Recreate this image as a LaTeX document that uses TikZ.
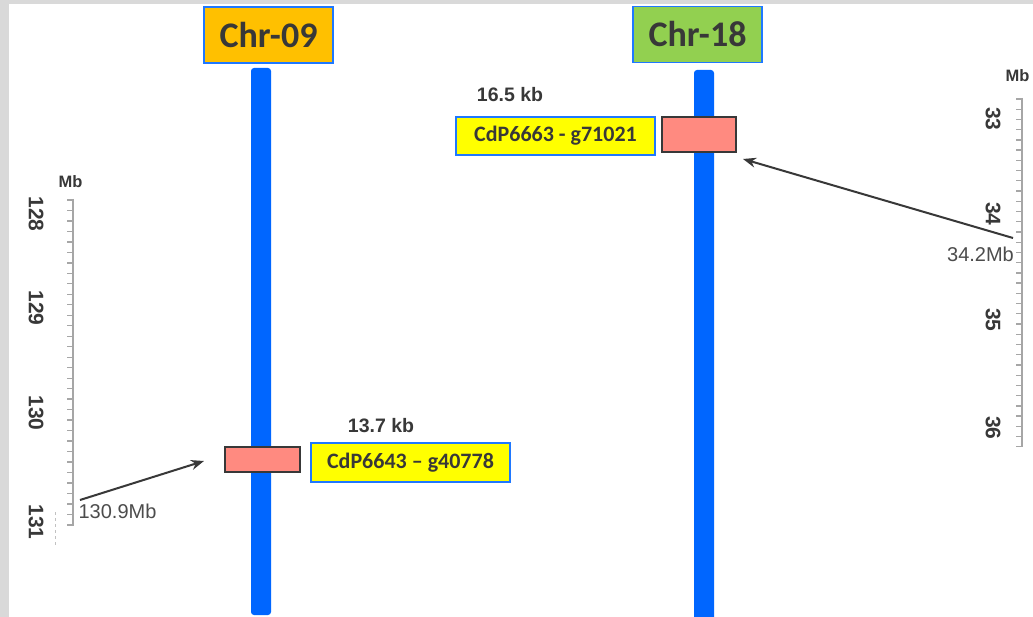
\documentclass[tikz,border=0pt]{standalone}
\usepackage{fontspec}
\setmainfont{Carlito}
\newfontfamily\arialfont{Liberation Sans}
\usetikzlibrary{arrows.meta}
\definecolor{chrblue}{HTML}{0066FF}
\definecolor{boxblue}{HTML}{1F78FF}
\definecolor{chrorange}{HTML}{FFC000}
\definecolor{chrgreen}{HTML}{92D050}
\definecolor{genebox}{HTML}{FFFF00}
\definecolor{markerfill}{HTML}{FF8A80}
\definecolor{txtgray}{HTML}{383838}
\definecolor{rulergray}{HTML}{A6A6A6}
\definecolor{framegray}{HTML}{D9D9D9}

\begin{document}
\begin{tikzpicture}[x=1pt,y=-1pt,
  title/.style={draw=boxblue, line width=1.5pt, text=txtgray, inner sep=0pt,
    minimum width=129pt, minimum height=56pt, font=\fontsize{36}{40}\selectfont\bfseries},
  gene/.style={draw=boxblue, line width=1.5pt, fill=genebox, text=txtgray, inner sep=0pt,
    minimum width=199pt, font=\fontsize{22}{24}\selectfont\bfseries},
  marker/.style={draw=txtgray, line width=1.2pt, fill=markerfill, inner sep=0pt},
  kb/.style={text=txtgray, inner sep=0pt, font=\arialfont\fontsize{19.5}{22}\selectfont\bfseries},
  mbnum/.style={text=txtgray, inner sep=0pt, rotate=-90, font=\arialfont\fontsize{21}{24}\selectfont\bfseries},
  mbunit/.style={text=txtgray, inner sep=0pt, font=\arialfont\fontsize{16.5}{18}\selectfont\bfseries},
  poslabel/.style={text=txtgray!90, inner sep=0pt, font=\arialfont\fontsize{20}{22}\selectfont},
  chrom/.style={fill=chrblue, rounded corners=3pt},
  tick/.style={draw=rulergray, line width=1.3pt},
  pointer/.style={draw=txtgray, line width=2pt, -{Stealth[length=13pt,width=10pt]}}]

\useasboundingbox (0,0) rectangle (1033,617);
\fill[framegray] (0,0) rectangle (1033,617);
\fill[white] (9,4) rectangle (1033,617);

% chromosomes
\fill[chrom] (251,68) rectangle (271,615);
\fill[chrom] (694,70) rectangle (714,625);
\node[title, fill=chrorange] (chr09) at (268.5,35) {Chr-09};
\node[title, fill=chrgreen] (chr18) at (697.5,34.5) {Chr-18};

% regions
\node[marker, minimum width=75pt, minimum height=25pt] (m09) at (262.5,459.5) {};
\node[marker, minimum width=74pt, minimum height=35pt] (m18) at (699,134.5) {};
\node[gene, minimum height=39pt] (g09) at (410.5,462.5) {CdP6643 – g40778};
\node[gene, minimum height=38pt] (g18) at (555.5,136) {CdP6663 - g71021};
\node[kb] (kb09) at (381,425.5) {13.7 kb};
\node[kb] (kb18) at (510,94.5) {16.5 kb};

% left ruler
\draw[tick, line width=2pt] (73,199) -- (73,526);
\foreach \i in {0,...,31}
  \draw[tick] (67,{200+10.48*\i}) -- (73,{200+10.48*\i});
\node[mbunit] (unit09) at (70.5,181.5) {Mb};
\node[mbnum] (n128) at (36,214) {128};
\node[mbnum] (n129) at (36,308) {129};
\node[mbnum] (n130) at (36,413) {130};
\node[mbnum] (n131) at (36,522) {131};
\draw[rulergray!70, dashed, line width=0.8pt] (55,512) -- (55,547);

% right ruler
\draw[tick, line width=2pt] (1022,98) -- (1022,447);
\foreach \i in {0,...,34}
  \draw[tick] (1016,{99+10.23*\i}) -- (1022,{99+10.23*\i});
\node[mbunit] (unit18) at (1017.5,76) {Mb};
\node[mbnum] (n33) at (993,119) {33};
\node[mbnum] (n34) at (993,214) {34};
\node[mbnum] (n35) at (993,320) {35};
\node[mbnum] (n36) at (993,428) {36};

% positions
\node[poslabel] (pos09) at (117.5,511) {130.9Mb};
\node[poslabel] (pos18) at (980.5,254.5) {34.2Mb};
\coordinate (from09) at (80,500);
\coordinate (tip09) at (204,461);
\coordinate (from18) at (1013,238);
\coordinate (tip18) at (743,159);
\draw[pointer] (from09) -- (tip09);
\draw[pointer] (from18) -- (tip18);
\end{tikzpicture}
\end{document}
